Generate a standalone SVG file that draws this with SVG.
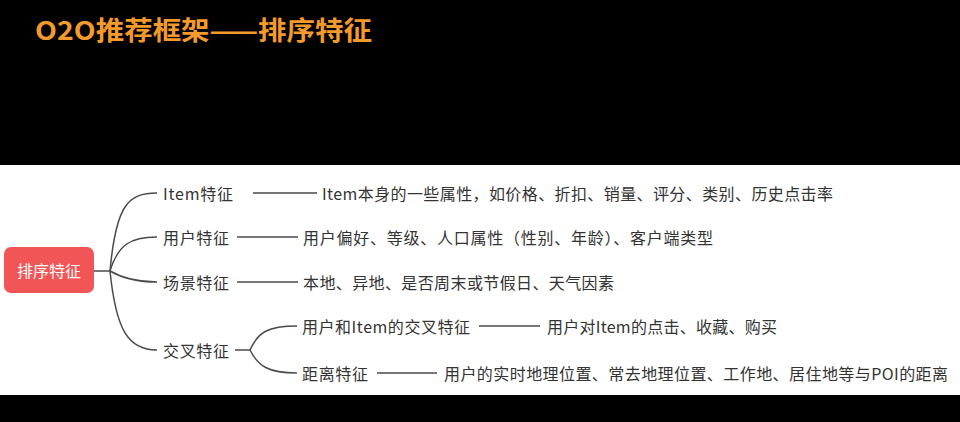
<svg xmlns="http://www.w3.org/2000/svg" width="960" height="422" viewBox="0 0 960 422">
<style>
.t{font-family:"Noto Sans CJK SC","Noto Sans",sans-serif;font-size:16px;fill:#333;dominant-baseline:central}
.c{fill:none;stroke:#4a4a4a;stroke-width:1.5}
.title{font-family:"Noto Sans CJK SC",sans-serif;font-size:26px;font-weight:bold;fill:#F39A2C}
</style>
<rect x="0" y="0" width="960" height="422" fill="#000"/>
<rect x="0" y="165" width="960" height="230" fill="#fff"/>
<text class="title" x="35" y="40" textLength="337" lengthAdjust="spacingAndGlyphs">O2O推荐框架——排序特征</text>
<g id="connectors">
<path class="c" d="M94,271 H110"/>
<path class="c" d="M110,271 C116,205 128,193 157,193"/>
<path class="c" d="M110,271 C118,245 130,237 157,237"/>
<path class="c" d="M110,271 C122,278 135,282 157,282"/>
<path class="c" d="M110,271 C116,330 128,350 157,350"/>
<path class="c" d="M253,193 H317"/>
<path class="c" d="M237,237 H298"/>
<path class="c" d="M237,282 H298"/>
<path class="c" d="M235,350 H250"/>
<path class="c" d="M250,350 C258,332 268,326 297,326"/>
<path class="c" d="M250,350 C258,366 268,373 297,373"/>
<path class="c" d="M479,326 H540"/>
<path class="c" d="M377,373 H437"/>
</g>
<g id="root">
<rect x="4" y="247" width="90" height="46" rx="7" fill="#F25555"/>
<text class="t" x="49" y="270" text-anchor="middle" style="fill:#fff">排序特征</text>
</g>
<g id="item"><text class="t" x="163" y="193" textLength="70">Item特征</text></g>
<g id="item-desc"><text class="t" x="322" y="193" textLength="511">Item本身的一些属性，如价格、折扣、销量、评分、类别、历史点击率</text></g>
<g id="user"><text class="t" x="163" y="237" textLength="66">用户特征</text></g>
<g id="user-desc"><text class="t" x="303" y="237" textLength="410">用户偏好、等级、人口属性（性别、年龄）、客户端类型</text></g>
<g id="scene"><text class="t" x="163" y="282" textLength="66">场景特征</text></g>
<g id="scene-desc"><text class="t" x="303" y="282" textLength="311">本地、异地、是否周末或节假日、天气因素</text></g>
<g id="cross"><text class="t" x="163" y="350" textLength="66">交叉特征</text></g>
<g id="cross-ui"><text class="t" x="302" y="326" textLength="168">用户和Item的交叉特征</text></g>
<g id="cross-ui-desc"><text class="t" x="547" y="326" textLength="230">用户对Item的点击、收藏、购买</text></g>
<g id="distance"><text class="t" x="302" y="373" textLength="66">距离特征</text></g>
<g id="distance-desc"><text class="t" x="444" y="373" textLength="504">用户的实时地理位置、常去地理位置、工作地、居住地等与POI的距离</text></g>
</svg>
